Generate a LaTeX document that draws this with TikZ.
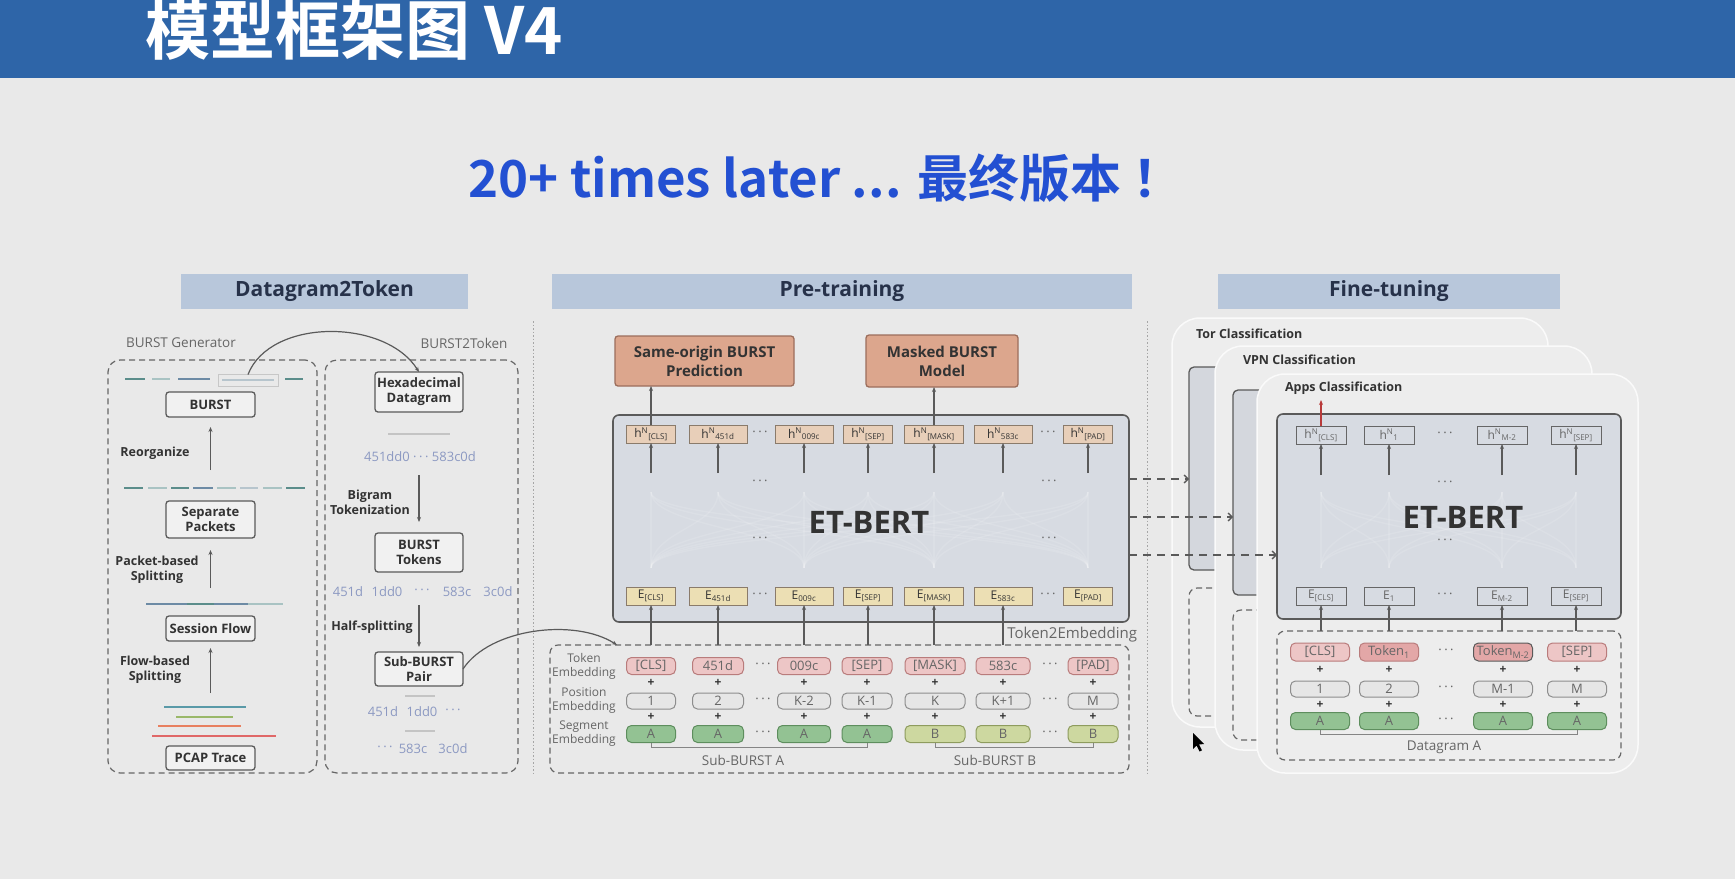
\documentclass[tikz,border=0pt]{standalone}
\usepackage{fontspec}
\setmainfont{Open Sans}
\newfontfamily\cjkbold{Noto Sans CJK SC Bold}
\usetikzlibrary{arrows.meta}

\definecolor{bg}{HTML}{E9E9E9}
\definecolor{banner}{HTML}{2E65A8}
\definecolor{subblue}{HTML}{2350D2}
\definecolor{secfill}{HTML}{B8C7DB}
\definecolor{sectext}{HTML}{27324A}
\definecolor{ink}{HTML}{333333}
\definecolor{soft}{HTML}{666666}
\definecolor{hexblue}{HTML}{8C99C2}
\definecolor{edge}{HTML}{5A5A5A}
\definecolor{boxfill}{HTML}{F1F1F1}
\definecolor{taskfill}{HTML}{DCA68D}
\definecolor{taskedge}{HTML}{9C6E5C}
\definecolor{hfill}{HTML}{E8CFB9}
\definecolor{efill}{HTML}{ECDFB4}
\definecolor{tanedge}{HTML}{8A7B6B}
\definecolor{tokfill}{HTML}{EDC6C6}
\definecolor{tokedge}{HTML}{B97C7C}
\definecolor{tokdark}{HTML}{E3A7A7}
\definecolor{posfill}{HTML}{E6E6E6}
\definecolor{posedge}{HTML}{8E8E8E}
\definecolor{afill}{HTML}{93C293}
\definecolor{aedge}{HTML}{5E8E5E}
\definecolor{bfill}{HTML}{CDD8A0}
\definecolor{bedge}{HTML}{8E9C5E}
\definecolor{bertfill}{HTML}{D7DBE2}
\definecolor{cardfill}{HTML}{EDEDED}
\definecolor{shadowfill}{HTML}{D4D7DD}
\definecolor{teal1}{HTML}{5B8D8B}
\definecolor{teal2}{HTML}{A9C3C3}
\definecolor{steel}{HTML}{6D8BA5}
\definecolor{paleline}{HTML}{B7C5CD}
\definecolor{greyline}{HTML}{C4C4C4}
\definecolor{flowteal}{HTML}{5A9AA8}
\definecolor{flowgreen}{HTML}{9AB86A}
\definecolor{floworange}{HTML}{E88060}
\definecolor{flowred}{HTML}{E06868}
\definecolor{redarrow}{HTML}{B83A3A}

\newcommand\fsz[2]{\fontsize{#1}{#2}\selectfont}
\newcommand\hn[1]{h\textsuperscript{N}\textsubscript{#1}}
\newcommand\en[1]{E\textsubscript{#1}}
\newcommand\dd{·\hspace{2.5pt}·\hspace{2.5pt}·}

\tikzset{
  every node/.style={inner sep=0pt, outer sep=0pt},
  plain/.style={draw=edge, line width=1.3, rounded corners=3, fill=boxfill,
    font=\fsz{13}{15}\bfseries, text=ink, align=center},
  task/.style={draw=taskedge, fill=taskfill, line width=1.3, rounded corners=3,
    font=\fsz{15}{19}\bfseries, text=ink, align=center},
  hcell/.style={draw=tanedge, fill=hfill, line width=1, minimum height=18,
    font=\fsz{12}{12}, text=ink},
  ecell/.style={hcell, fill=efill},
  fcell/.style={draw=soft, line width=1, minimum width=50, minimum height=18,
    font=\fsz{12}{12}, text=soft},
  tok/.style={rounded corners=5, line width=1, font=\fsz{13}{13}, text=soft},
  lbl/.style={font=\fsz{13.5}{16}, text=soft, align=center},
  rowlbl/.style={font=\fsz{12}{14}, text=soft, align=center},
  steplbl/.style={font=\fsz{12.5}{15}\bfseries, text=ink, align=center},
  hexstr/.style={font=\fsz{13}{15}, text=hexblue},
  dots/.style={font=\fsz{13}{13}, text=soft},
  plus/.style={font=\fsz{12}{12}\bfseries, text=ink},
  arr/.style={draw=edge, line width=1.2, -{Stealth[length=5pt,width=4pt]}},
  dashbox/.style={draw=soft, line width=1.2, dash pattern=on 6pt off 4pt, rounded corners=12},
  dashsmall/.style={draw=soft, line width=1.2, dash pattern=on 6pt off 4pt, rounded corners=8},
  sechead/.style={fill=secfill, minimum height=35, font=\fsz{21}{21}\bfseries, text=sectext},
  card/.style={fill=cardfill, draw=white!70!cardfill, line width=1.5, rounded corners=28},
  grayrect/.style={fill=shadowfill, draw=edge, line width=1.3, rounded corners=5},
  bertbox/.style={fill=bertfill, draw=edge, line width=1.6, rounded corners=6},
  flink/.style={draw=edge, line width=1.3, dash pattern=on 8pt off 6pt,
    -{Straight Barb[length=4pt,width=8pt]}},
  dotsep/.style={draw=black!35, line width=1, dash pattern=on 1.5pt off 2pt},
  bracket/.style={draw=soft!80, line width=1},
  seg/.style={line width=2.6},
  attn/.style={draw=white, opacity=0.12, line width=1.4},
  cardlbl/.style={anchor=west, font=\fsz{12.5}{14}\bfseries, text=ink},
}

\begin{document}
\begin{tikzpicture}[x=1pt,y=-1pt]
\useasboundingbox (0,0) rectangle (1735,879);
\fill[bg] (0,0) rectangle (1735,879);

% ---------- banner and headline ----------
\fill[banner] (0,0) rectangle (1735,78);
\node[anchor=west, text=white] (title) at (145,30) {\cjkbold\fsz{65}{65}模型框架图 V4};
\node[text=subblue] (headline) at (826,178) {\cjkbold\fsz{51}{51}20+ times later ... 最终版本 ！};

% ---------- section headers ----------
\node[sechead, minimum width=287] (hdA) at (324.5,291) {Datagram2Token};
\node[sechead, minimum width=580] (hdB) at (842,291) {Pre-training};
\node[sechead, minimum width=342] (hdC) at (1389,291) {Fine-tuning};

\coordinate (sepA1) at (533,321); \coordinate (sepA2) at (533,775);
\coordinate (sepB1) at (1147,321); \coordinate (sepB2) at (1147,775);
\draw[dotsep] (sepA1) -- (sepA2);
\draw[dotsep] (sepB1) -- (sepB2);

% ---------- Datagram2Token ----------
\node[lbl] (genlbl) at (181,343) {BURST Generator};
\node[lbl] (b2tlbl) at (464,343) {BURST2Token};
\node[dashbox, minimum width=209, minimum height=413] (genbox) at (212.5,566.5) {};
\node[dashbox, minimum width=193, minimum height=413] (b2tbox) at (421.5,566.5) {};

% packet strips
\draw[seg, teal1] (125,379) -- (145,379);
\draw[seg, teal2] (152,379) -- (170,379);
\draw[seg, steel] (178,379) -- (210,379);
\node[draw=black!22, line width=0.8, minimum width=60, minimum height=12] (sel) at (248,380.5) {};
\draw[seg, paleline] (222,380) -- (274,380);
\draw[seg, teal1] (285,379) -- (303,379);

\draw[seg, teal1] (124,488) -- (143,488);
\draw[seg, teal2] (148,488) -- (167,488);
\draw[seg, teal1] (171,488) -- (189,488);
\draw[seg, steel] (193,488) -- (213,488);
\draw[seg, teal2] (217,488) -- (236,488);
\draw[seg, paleline] (240,488) -- (258,488);
\draw[seg, teal2] (263,488) -- (282,488);
\draw[seg, teal1] (286,488) -- (305,488);

\draw[seg, steel] (146,604) -- (187,604);
\draw[seg, teal1] (187,604) -- (214,604);
\draw[seg, steel] (214,604) -- (248,604);
\draw[seg, teal2] (248,604) -- (283,604);

\draw[seg, flowteal] (164,707) -- (246,707);
\draw[seg, flowgreen] (176,717) -- (233,717);
\draw[seg, floworange] (158,726) -- (241,726);
\draw[seg, flowred] (152,736) -- (276,736);

\node[plain, minimum width=89, minimum height=25] (burst) at (210.5,404.5) {BURST};
\node[plain, minimum width=89, minimum height=37] (sep) at (210.5,519.5) {Separate\\Packets};
\node[plain, minimum width=89, minimum height=25] (session) at (210.5,628.5) {Session Flow};
\node[plain, minimum width=89, minimum height=24] (pcap) at (210.5,758) {PCAP Trace};

\coordinate (up1a) at (210.5,470); \coordinate (up1b) at (210.5,427);
\coordinate (up2a) at (210.5,588); \coordinate (up2b) at (210.5,550);
\coordinate (up3a) at (210.5,693); \coordinate (up3b) at (210.5,648);
\draw[arr] (up1a) -- (up1b);
\draw[arr] (up2a) -- (up2b);
\draw[arr] (up3a) -- (up3b);
\node[steplbl] (lreorg) at (155,453) {Reorganize};
\node[steplbl] (lpkt) at (157,570) {Packet-based\\Splitting};
\node[steplbl] (lflow) at (155,670) {Flow-based\\Splitting};

\node[plain, minimum width=88, minimum height=40] (hex) at (419,392) {Hexadecimal\\Datagram};
\node[plain, minimum width=88, minimum height=39] (btok) at (419,552.5) {BURST\\Tokens};
\node[plain, minimum width=88, minimum height=34] (sbp) at (419,669) {Sub-BURST\\Pair};

\draw[line width=2, greyline] (388,434) -- (450,434);
\node[hexstr] (hx1) at (420,457) {451dd0 \dd\ 583c0d};
\coordinate (dn1a) at (419,475); \coordinate (dn1b) at (419,522);
\draw[arr] (dn1a) -- (dn1b);
\node[steplbl] (lbigram) at (370,502) {Bigram\\Tokenization};

\node[hexstr] (tk1) at (348,592) {451d};
\node[hexstr] (tk2) at (387,592) {1dd0};
\node[hexstr] (tk3) at (422,592) {\dd};
\node[hexstr] (tk4) at (457,592) {583c};
\node[hexstr] (tk5) at (498,592) {3c0d};
\coordinate (dn2a) at (419,605); \coordinate (dn2b) at (419,647);
\draw[arr] (dn2a) -- (dn2b);
\node[steplbl] (lhalf) at (372,627) {Half-splitting};

\draw[line width=2, greyline] (405,696) -- (435,696);
\node[hexstr] (ha1) at (383,712) {451d};
\node[hexstr] (ha2) at (422,712) {1dd0};
\node[hexstr] (ha3) at (453,712) {\dd};
\draw[line width=2, greyline] (405,731) -- (435,731);
\node[hexstr] (hb1) at (385,749) {\dd};
\node[hexstr] (hb2) at (413,749) {583c};
\node[hexstr] (hb3) at (453,749) {3c0d};

\draw[arr] (sel.north) .. controls (270,318) and (385,318) .. (hex.north);

% ---------- Pre-training ----------
\node[task, minimum width=179, minimum height=50] (sop) at (704.5,361) {Same-origin BURST\\Prediction};
\node[task, minimum width=152, minimum height=52] (mbm) at (942,361) {Masked BURST\\Model};

\node[bertbox, minimum width=516, minimum height=207] (bert) at (871,518.5) {};
\foreach \a in {651,718,804,868,934,1003,1088}
  \foreach \b in {651,804,934,1088}
    \draw[attn] (\a,492) .. controls (\a,528) and (\b,530) .. (\b,568);
\node[font=\fsz{31}{31}\bfseries, text=ink] (bertlbl) at (869,522) {ET-BERT};

\foreach \i/\x/\w/\t in {1/651/49/{[CLS]},2/718/58/{451d},3/804/58/{009c},4/868/49/{[SEP]},5/934/59/{[MASK]},6/1003/58/{583c},7/1088/49/{[PAD]}}{
  \node[hcell, minimum width=\w] (h\i) at (\x,434) {\hn{\t}};
  \node[ecell, minimum width=\w] (e\i) at (\x,596) {\en{\t}};
  \coordinate (hb\i) at (\x,473);
  \draw[arr] (hb\i) -- (h\i.south);
}
\foreach \x/\y [count=\k] in {760/434,1048/434,760/596,1048/596,760/483,1049/483,760/540,1049/540}
  \node[dots] (pd\k) at (\x,\y) {\dd};

\draw[arr] (h1.north) -- (h1.north |- sop.south);
\draw[arr] (h5.north) -- (h5.north |- mbm.south);

\node[dashsmall, minimum width=579, minimum height=128] (t2e) at (839.5,709) {};
\node[font=\fsz{15}{15}, text=soft, anchor=east] (t2elbl) at (1137,635) {Token2Embedding};

\node[rowlbl] (rl1) at (584,666) {Token\\Embedding};
\node[rowlbl] (rl2) at (584,701) {Position\\Embedding};
\node[rowlbl] (rl3) at (584,734) {Segment\\Embedding};

\foreach \i/\x/\w/\t/\p/\s/\sf/\se in {1/651/49/{[CLS]}/1/A/afill/aedge,2/718/51/451d/2/A/afill/aedge,3/804/53/009c/K-2/A/afill/aedge,4/867/50/{[SEP]}/K-1/A/afill/aedge,5/935/60/{[MASK]}/K/B/bfill/bedge,6/1003/54/583c/K+1/B/bfill/bedge,7/1093/50/{[PAD]}/M/B/bfill/bedge}{
  \node[tok, draw=tokedge, fill=tokfill, minimum width=\w, minimum height=17] (t\i) at (\x,666) {\t};
  \node[plus] (pa\i) at (\x,683) {+};
  \node[tok, draw=posedge, fill=posfill, minimum width=\w, minimum height=16] (p\i) at (\x,701) {\p};
  \node[plus] (pb\i) at (\x,717) {+};
  \node[tok, draw=\se, fill=\sf, minimum width=\w, minimum height=17] (s\i) at (\x,734) {\s};
}
\foreach \x/\y [count=\k] in {763/666,1050/666,763/701,1050/701,763/734,1050/734}
  \node[dots] (td\k) at (\x,\y) {\dd};

\foreach \i in {1,...,6}
  \draw[arr] (e\i |- t2e.north) -- (e\i.south);

\draw[bracket] (s1.south) -- ++(0,5) -| (s4.south);
\draw[bracket] (s5.south) -- ++(0,5) -| (s7.south);
\node[lbl] (suba) at (743,760) {Sub-BURST A};
\node[lbl] (subb) at (995,760) {Sub-BURST B};

\coordinate (t2ein) at (617,645);
\draw[arr] (sbp.east) .. controls (490,628) and (575,618) .. (t2ein);

% ---------- Fine-tuning ----------
\node[card, minimum width=376, minimum height=409] (torcard) at (1360,522.5) {};
\node[grayrect, minimum width=311, minimum height=203] (torb) at (1344.5,468.5) {};
\node[dashsmall, minimum width=311, minimum height=128] (tord) at (1344.5,652) {};
\node[cardlbl] (torlbl) at (1196,334) {Tor Classification};

\node[card, minimum width=377, minimum height=404] (vpncard) at (1403.5,548) {};
\node[grayrect, minimum width=327, minimum height=205] (vpnb) at (1396.5,492.5) {};
\node[dashsmall, minimum width=327, minimum height=130] (vpnd) at (1396.5,675) {};
\node[cardlbl] (vpnlbl) at (1243,360) {VPN Classification};

\node[card, minimum width=381, minimum height=399] (appcard) at (1447.5,573.5) {};
\node[bertbox, minimum width=344, minimum height=205] (appb) at (1449,516.5) {};
\foreach \a in {1321,1389,1502,1576}
  \foreach \b in {1321,1389,1502,1576}
    \draw[attn] (\a,492) .. controls (\a,528) and (\b,530) .. (\b,568);
\node[dashsmall, minimum width=344, minimum height=129] (appd) at (1449,695.5) {};
\node[cardlbl] (applbl) at (1285,388) {Apps Classification};
\node[font=\fsz{31}{31}\bfseries, text=ink] (appbertlbl) at (1463,517) {ET-BERT};

\foreach \i/\x/\t in {1/1321/{[CLS]},2/1389/1,3/1502/{M-2},4/1576/{[SEP]}}{
  \node[fcell] (fh\i) at (\x,435) {\hn{\t}};
  \node[fcell] (fe\i) at (\x,596) {\en{\t}};
  \coordinate (fhb\i) at (\x,475);
  \draw[arr] (fhb\i) -- (fh\i.south);
  \draw[arr] (fe\i |- appd.north) -- (fe\i.south);
}
\foreach \i/\x/\t/\tf/\te/\p in {1/1320/{[CLS]}/tokfill/tokedge/1,2/1389/{Token\textsubscript{1}}/tokdark/tokedge/2,3/1503/{Token\textsubscript{M-2}}/tokdark/edge/M-1,4/1577/{[SEP]}/tokfill/tokedge/M}{
  \node[tok, draw=\te, fill=\tf, minimum width=59, minimum height=18] (ft\i) at (\x,652) {\t};
  \node[plus] (fpa\i) at (\x,670) {+};
  \node[tok, draw=posedge, fill=posfill, minimum width=59, minimum height=16] (fp\i) at (\x,689) {\p};
  \node[plus] (fpb\i) at (\x,705) {+};
  \node[tok, draw=aedge, fill=afill, minimum width=59, minimum height=17] (fs\i) at (\x,721) {A};
}
\foreach \x/\y [count=\k] in {1445/435,1445/596,1445/484,1445/542,1446/652,1446/689,1446/721}
  \node[dots] (fd\k) at (\x,\y) {\dd};
\draw[bracket] (fs1.south) -- ++(0,5) -| (fs4.south);
\node[lbl] (dga) at (1444,747) {Datagram A};

\coordinate (redtip) at (1321,400);
\draw[arr, draw=redarrow] (fh1.north) -- (redtip);

% links from the pre-trained model to each task
\coordinate (ly1) at (0,479); \coordinate (ly2) at (0,517); \coordinate (ly3) at (0,555);
\draw[flink] (bert.east |- ly1) -- (torb.west |- ly1);
\draw[flink] (bert.east |- ly2) -- (vpnb.west |- ly2);
\draw[flink] (bert.east |- ly3) -- (appb.west |- ly3);

% pointer
\fill[black] (1193,733) -- (1193,749) -- (1196.5,745.5) -- (1199.5,751.5) -- (1202,750.3) -- (1199,744.5) -- (1204,744) -- cycle;
\end{tikzpicture}
\end{document}
